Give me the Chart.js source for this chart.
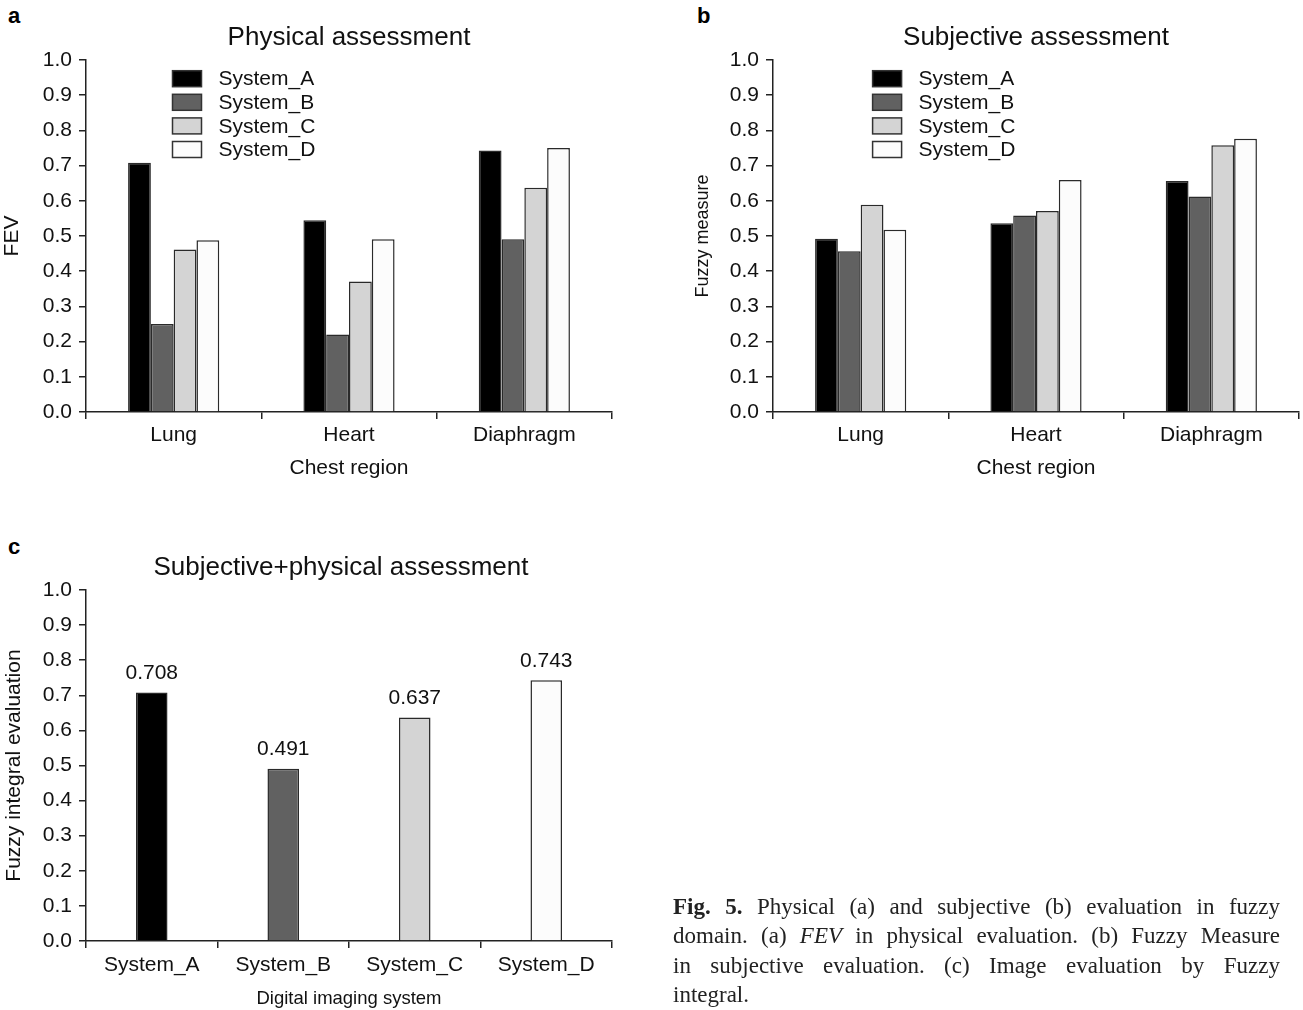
<!DOCTYPE html>
<html><head><meta charset="utf-8">
<script src="https://cdn.jsdelivr.net/npm/chart.js@4/dist/chart.umd.min.js"></script>
<style>
html,body{margin:0;padding:0;background:#fff;}
body{width:1303px;height:1010px;position:relative;overflow:hidden;font-family:"Liberation Sans",Arial,sans-serif;}
canvas{position:absolute;}
.lbl{position:absolute;font-weight:bold;font-size:22px;line-height:22px;color:#000;}
#caption{position:absolute;left:673px;top:892px;width:607px;font-family:"Liberation Serif",serif;font-size:23px;line-height:29.4px;color:#222;}
#caption div{white-space:nowrap;}
#caption .j{text-align:justify;text-align-last:justify;}
</style></head><body>
<div class="lbl" style="left:8px;top:5px">a</div>
<div class="lbl" style="left:697px;top:5px">b</div>
<div class="lbl" style="left:8px;top:536px">c</div>
<canvas id="ca" width="640" height="500" style="left:0;top:0"></canvas>
<canvas id="cb" width="653" height="500" style="left:650px;top:0"></canvas>
<canvas id="cc" width="682" height="480" style="left:0;top:530px"></canvas>
<div id="caption">
<div class="j"><b>Fig. 5.</b> Physical (a) and subjective (b) evaluation in fuzzy</div>
<div class="j">domain. (a) <i>FEV</i> in physical evaluation. (b) Fuzzy Measure</div>
<div class="j">in subjective evaluation. (c) Image evaluation by Fuzzy</div>
<div>integral.</div>
</div>
<script>
// ---- data ----
const regions = ['Lung', 'Heart', 'Diaphragm'];
const systems = ['System_A', 'System_B', 'System_C', 'System_D'];
const systemColors = ['#000000', '#616161', '#d4d4d4', '#fcfcfc'];

const physA = [0.708, 0.545, 0.743];
const physB = [0.250, 0.220, 0.491];
const physC = [0.462, 0.371, 0.637];
const physD = [0.488, 0.491, 0.750];

const subjA = [0.492, 0.536, 0.656];
const subjB = [0.457, 0.558, 0.612];
const subjC = [0.589, 0.571, 0.758];
const subjD = [0.518, 0.659, 0.776];

const integralValues = [0.708, 0.491, 0.637, 0.743];

const yMin = 0, yMax = 1, yStep = 0.1;

// ---- helpers ----
const FONT = '"Liberation Sans", Arial, sans-serif';
const INK = '#111';
const AXIS = '#222';

const insideLegend = {
  id: 'insideLegend',
  afterDraw(chart, args, opts) {
    if (!opts || !opts.display) return;
    const ctx = chart.ctx, ca = chart.chartArea;
    ctx.save();
    ctx.font = opts.fontSize + 'px ' + FONT;
    ctx.textBaseline = 'middle';
    ctx.textAlign = 'left';
    chart.data.datasets.forEach((ds, i) => {
      const bx = ca.left + opts.x;
      const by = ca.top + opts.y + i * opts.rowH;
      ctx.fillStyle = ds.backgroundColor;
      ctx.fillRect(bx, by, opts.boxW, opts.boxH);
      ctx.strokeStyle = '#333';
      ctx.lineWidth = 1.5;
      ctx.strokeRect(bx, by, opts.boxW, opts.boxH);
      ctx.fillStyle = INK;
      ctx.fillText(ds.label, bx + opts.boxW + opts.gap, by + opts.boxH / 2 + 1);
    });
    ctx.restore();
  }
};

const valueLabels = {
  id: 'valueLabels',
  afterDatasetsDraw(chart, args, opts) {
    if (!opts || !opts.display) return;
    const ctx = chart.ctx;
    ctx.save();
    ctx.font = opts.fontSize + 'px ' + FONT;
    ctx.fillStyle = INK;
    ctx.textAlign = 'center';
    ctx.textBaseline = 'middle';
    chart.data.datasets.forEach((ds, di) => {
      chart.getDatasetMeta(di).data.forEach((bar, i) => {
        ctx.fillText(Number(ds.data[i]).toFixed(3), bar.x, bar.y - opts.offset);
      });
    });
    ctx.restore();
  }
};

function makeScales(p) {
  return {
    x: {
      type: 'category',
      offset: true,
      grid: {display: true, drawOnChartArea: false, drawTicks: true, tickLength: 7, color: AXIS, lineWidth: 1.5, offset: true},
      border: {display: true, color: AXIS, width: 1.5},
      ticks: {font: {family: FONT, size: 21}, color: INK, padding: p.xTickPad, maxRotation: 0, autoSkip: false},
      title: {display: true, text: p.xTitle, font: {family: FONT, size: p.xTitleSize}, color: INK, padding: {top: 0, bottom: p.xTitlePad}},
      afterFit: (s) => { s.height = p.xHeight; }
    },
    y: {
      min: yMin, max: yMax,
      grid: {display: true, drawOnChartArea: false, drawTicks: true, tickLength: 7, color: AXIS, lineWidth: 1.5},
      border: {display: true, color: AXIS, width: 1.5},
      ticks: {stepSize: yStep, callback: (v) => Number(v).toFixed(1), font: {family: FONT, size: 21}, color: INK, padding: 7},
      title: {display: true, text: p.yTitle, font: {family: FONT, size: p.yTitleSize}, color: INK, padding: {top: p.yTitlePad, bottom: 0}},
      afterFit: (s) => { s.width = p.yWidth; }
    }
  };
}

function makeTitle(text, fullSize) {
  return {display: true, text: text, fullSize: !!fullSize, font: {family: FONT, size: 26, weight: 'normal'}, color: INK, padding: {top: 22, bottom: 6.8}};
}

function groupedChart(id, title, series, p) {
  const datasets = series.map((data, i) => ({
    label: systems[i],
    data: data,
    backgroundColor: systemColors[i],
    borderColor: '#2a2a2a',
    borderWidth: 1.5,
    categoryPercentage: 0.52,
    barPercentage: 1.0
  }));
  return new Chart(document.getElementById(id), {
    type: 'bar',
    data: {labels: regions, datasets: datasets},
    plugins: [insideLegend],
    options: {
      responsive: false,
      animation: false,
      layout: {padding: {left: 0, right: p.padRight, top: 0, bottom: 0}},
      plugins: {
        legend: {display: false},
        tooltip: {enabled: false},
        title: makeTitle(title, false),
        insideLegend: {display: true, x: p.legX, y: 10.7, rowH: 23.6, boxW: 29, boxH: 16, gap: 17, fontSize: 21}
      },
      scales: makeScales(p)
    }
  });
}

groupedChart('ca', 'Physical assessment', [physA, physB, physC, physD], {
  padRight: 28, legX: 86.5,
  xTitle: 'Chest region', xTitleSize: 21, xTitlePad: 19, xTickPad: 4, xHeight: 88,
  yTitle: 'FEV', yTitleSize: 21, yTitlePad: 0, yWidth: 86
});

groupedChart('cb', 'Subjective assessment', [subjA, subjB, subjC, subjD], {
  padRight: 4, legX: 99.6,
  xTitle: 'Chest region', xTitleSize: 21, xTitlePad: 19, xTickPad: 4, xHeight: 88,
  yTitle: 'Fuzzy measure', yTitleSize: 18, yTitlePad: 42, yWidth: 123
});

const scalesC = makeScales({
  xTitle: 'Digital imaging system', xTitleSize: 18.5, xTitlePad: 0, xTickPad: 5, xHeight: 69,
  yTitle: 'Fuzzy integral evaluation', yTitleSize: 21, yTitlePad: 2, yWidth: 86
});
// empty spacer on the right so the full-width title centres where the original does
scalesC.spacer = {
  position: 'right', display: true,
  grid: {display: false, drawTicks: false},
  border: {display: false},
  ticks: {display: false},
  afterFit: (s) => { s.width = 70; }
};

new Chart(document.getElementById('cc'), {
  type: 'bar',
  data: {
    labels: systems,
    datasets: [{
      label: 'Fuzzy integral evaluation',
      data: integralValues,
      backgroundColor: systemColors,
      borderColor: '#2a2a2a',
      borderWidth: 1.5,
      categoryPercentage: 0.24,
      barPercentage: 1.0
    }]
  },
  plugins: [valueLabels],
  options: {
    responsive: false,
    animation: false,
    layout: {padding: {left: 0, right: 0, top: 0, bottom: 0}},
    plugins: {
      legend: {display: false},
      tooltip: {enabled: false},
      title: makeTitle('Subjective+physical assessment', true),
      valueLabels: {display: true, offset: 19, fontSize: 21}
    },
    scales: scalesC
  }
});
</script>
</body></html>
